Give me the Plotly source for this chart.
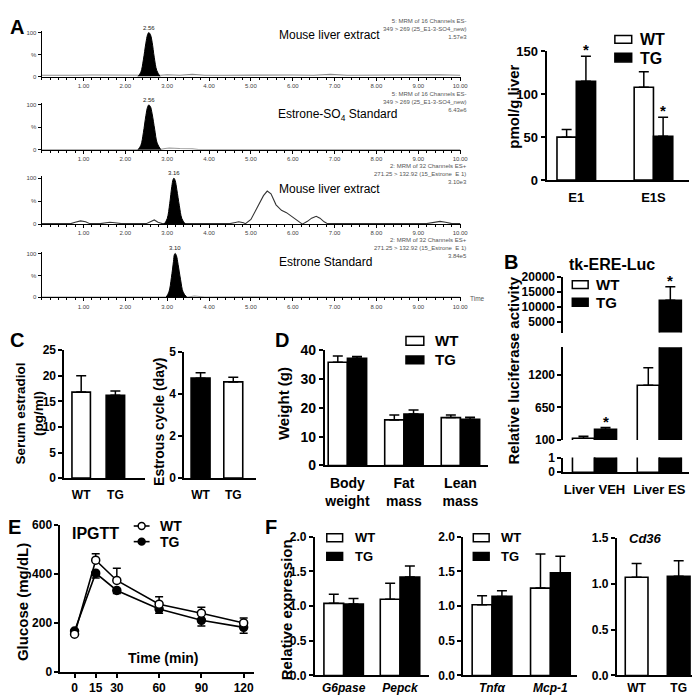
import plotly.graph_objects as go

W, H = 700, 696
FONT = "Liberation Sans, Arial, Helvetica, sans-serif"

# ---------------- data ----------------
# A (left): LC-MS/MS chromatograms, retention time (min) vs relative intensity (%)
chrom_ticks = [1, 2, 3, 4, 5, 6, 7, 8, 9, 10]
chrom_yticks = [0, 50, 100]
chrom_yticktext = ["0", "%", "100"]

c1_base_t = [0.0, 0.5, 0.8, 1.2, 1.6, 2.0, 2.3, 2.85, 3.0, 3.3, 3.6, 3.9, 4.4, 5.0, 5.5, 6.0, 6.5, 6.9, 7.3, 8.0, 8.5, 9.0, 9.5, 10.0]
c1_base_v = [3, 4, 3, 3.5, 3, 4, 3, 3, 4, 3, 5, 3, 3, 3.5, 3, 3.5, 3, 5, 3, 3.5, 3, 3, 4, 3]
c1_peak_t = [2.30, 2.37, 2.43, 2.49, 2.53, 2.56, 2.60, 2.64, 2.69, 2.75, 2.83]
c1_peak_v = [0, 10, 38, 76, 95, 100, 95, 78, 44, 14, 0]

c2_base_t = [0.0, 2.0, 2.1, 2.3, 2.85, 2.95, 3.05, 3.3, 3.6, 3.75, 10.0]
c2_base_v = [0.5, 0.5, 1.5, 0.5, 1, 3, 4, 3, 2.5, 0.5, 0.5]
c2_peak_t = [2.30, 2.37, 2.43, 2.49, 2.53, 2.56, 2.60, 2.64, 2.70, 2.76, 2.85]
c2_peak_v = [0, 10, 38, 76, 95, 100, 96, 80, 46, 15, 0]

c3_line_t = [0.0, 0.7, 0.8, 0.93, 1.05, 1.15, 1.4, 1.55, 1.63, 1.75, 1.9, 2.5, 2.6, 2.69, 2.78, 2.88,
             3.4, 4.5, 4.6, 4.71, 4.82, 4.87, 5.0, 5.15, 5.3, 5.39, 5.48, 5.6, 5.73, 5.85, 6.0, 6.15,
             6.23, 6.35, 6.45, 6.56, 6.65, 6.75, 6.83, 9.2, 9.35, 9.52, 9.65, 9.8, 10.0]
c3_line_v = [1, 1, 4, 7, 5, 1, 1, 3, 4, 3, 1, 1, 5, 9, 4, 1,
             1, 1, 3, 5, 3, 1, 10, 35, 62, 72, 66, 42, 30, 25, 15, 6,
             0, 6, 13, 17, 13, 5, 1, 1, 4, 6, 4, 1, 1]
c3_peak_t = [2.93, 3.00, 3.06, 3.11, 3.14, 3.16, 3.19, 3.23, 3.29, 3.35, 3.43]
c3_peak_v = [0, 12, 45, 82, 97, 100, 95, 75, 40, 12, 0]

c4_base_t = [0.0, 2.6, 2.75, 2.95, 3.5, 3.65, 3.75, 3.9, 5.0, 5.3, 5.6, 10.0]
c4_base_v = [0.5, 0.5, 1.5, 0.5, 1, 3, 2, 1, 1.5, 2, 1, 0.5]
c4_peak_t = [2.97, 3.04, 3.10, 3.15, 3.17, 3.19, 3.22, 3.26, 3.32, 3.38, 3.47]
c4_peak_v = [0, 12, 45, 82, 97, 100, 95, 75, 40, 12, 0]

peak_times = [2.56, 2.56, 3.16, 3.19]
peak_labels = ["2.56", "2.56", "3.16", "3.10"]
chrom_names = ["Mouse liver extract", "Estrone-SO<sub>4</sub> Standard", "Mouse liver extract", "Estrone Standard"]
chrom_info = [
    "5: MRM of 16 Channels ES-<br>349 > 269 (25_E1-3-SO4_new)<br>1.57e3",
    "5: MRM of 16 Channels ES-<br>349 > 269 (25_E1-3-SO4_new)<br>6.43e6",
    "2: MRM of 32 Channels ES+<br>271.25 > 132.92 (15_Estrone  E 1)<br>3.10e3",
    "2: MRM of 32 Channels ES+<br>271.25 > 132.92 (15_Estrone  E 1)<br>3.84e5",
]

# A (right): pmol/g liver
a_cats = ["E1", "E1S"]
a_wt = [50, 108]
a_wt_err = [9, 18]
a_tg = [115, 51]
a_tg_err = [29, 22]

# B: tk-ERE-Luc relative luciferase activity (broken y axis)
b_cats = ["Liver VEH", "Liver ES"]
b_wt = [130, 1020]
b_wt_err = [35, 295]
b_tg = [280, 12150]
b_tg_err = [30, 4550]
b_upper_ticks = [5000, 10000, 15000, 20000]
b_middle_ticks = [100, 650, 1200]
b_lower_ticks = [0, 1]

# C
c_cats = ["WT", "TG"]
c_estradiol = [16.8, 16.2]
c_estradiol_err = [3.2, 0.8]
c_estrous = [4.76, 4.58]
c_estrous_err = [0.26, 0.22]

# D
d_cats = ["Body<br>weight", "Fat<br>mass", "Lean<br>mass"]
d_wt = [35.8, 15.8, 16.6]
d_wt_err = [2.2, 1.7, 0.9]
d_tg = [37.2, 17.8, 16.0]
d_tg_err = [0.6, 1.4, 0.7]

# E: IPGTT
e_time = [0, 15, 30, 60, 90, 120]
e_wt = [153, 456, 373, 276, 239, 199]
e_wt_err = [8, 26, 50, 30, 24, 20]
e_tg = [166, 403, 332, 256, 210, 181]
e_tg_err = [10, 20, 12, 17, 23, 24]

# F
f1_cats = ["<i>G6pase</i>", "<i>Pepck</i>"]
f1_wt = [1.04, 1.10]
f1_wt_err = [0.13, 0.23]
f1_tg = [1.03, 1.42]
f1_tg_err = [0.08, 0.16]
f2_cats = ["<i>Tnfα</i>", "<i>Mcp-1</i>"]
f2_wt = [1.02, 1.26]
f2_wt_err = [0.13, 0.49]
f2_tg = [1.14, 1.48]
f2_tg_err = [0.08, 0.24]
f3_cats = ["WT", "TG"]
f3_vals = [1.07, 1.08]
f3_err = [0.15, 0.17]


# ---------------- helpers ----------------
def xdom(a, b):
    return [a / W, b / W]


def ydom(top, bottom):
    return [1 - bottom / H, 1 - top / H]


def PX(x):
    return x / W


def PY(y):
    return 1 - y / H


fig = go.Figure()
annotations = []
shapes = []


def bold_font(size):
    return dict(family=FONT, color="black", weight=700, size=size)


def prism_y(dom, rng, size=12, **kw):
    d = dict(domain=dom, range=rng, showline=True, linecolor="black", linewidth=2,
             ticks="outside", ticklen=4, tickwidth=2, tickcolor="black",
             tickfont=bold_font(size), showgrid=False, zeroline=False, fixedrange=True)
    d.update(kw)
    return d


def prism_x(dom, rng, size=13, **kw):
    d = dict(domain=dom, range=rng, showline=True, linecolor="black", linewidth=2,
             ticks="", tickfont=bold_font(size), showgrid=False, zeroline=False,
             type="category", fixedrange=True, ticklabelstandoff=4)
    d.update(kw)
    return d


def err(arr):
    return dict(type="data", symmetric=False, array=arr, arrayminus=[0] * len(arr),
                color="black", thickness=1.5, width=5)


def bar(xref, yref, cats, vals, errs, offset, width, fill):
    kw = {}
    if errs is not None:
        kw["error_y"] = err(errs)
    if offset is not None:
        kw["offset"] = offset
    fig.add_trace(go.Bar(x=cats, y=vals, width=width,
                         marker=dict(color=fill, line=dict(color="black", width=1.6)),
                         xaxis=xref, yaxis=yref, showlegend=False, hoverinfo="skip", **kw))


def grouped(xref, yref, cats, wt, wt_err, tg, tg_err, w):
    bar(xref, yref, cats, wt, wt_err, -w, w, "white")
    bar(xref, yref, cats, tg, tg_err, 0, w, "black")


def text(x, y, s, size, bold=True, angle=0, xanchor="center", yanchor="middle", color="black", align="center"):
    f = dict(family=FONT, size=size, color=color)
    if bold:
        f["weight"] = 700
    annotations.append(dict(x=PX(x), y=PY(y), xref="paper", yref="paper", text=s, showarrow=False,
                            font=f, textangle=angle, xanchor=xanchor, yanchor=yanchor, align=align))


def legend_box(x0, y0, x1, y1, fill):
    shapes.append(dict(type="rect", xref="paper", yref="paper", x0=PX(x0), x1=PX(x1), y0=PY(y1), y1=PY(y0),
                       line=dict(color="black", width=1.5), fillcolor=fill))


def star(xref, yref, x, y):
    annotations.append(dict(x=x, y=y, xref=xref, yref=yref, text="*", showarrow=False,
                            yanchor="bottom", yshift=-4, font=bold_font(15)))


layout = {}

# ---------------- A: chromatograms ----------------
chrom_geom = [(62, 17), (137, 91), (213, 166), (288, 243)]  # (zero px, hundred px)
chrom_data = [
    (c1_base_t, c1_base_v, c1_peak_t, c1_peak_v, "#8c8c8c"),
    (c2_base_t, c2_base_v, c2_peak_t, c2_peak_v, "#9a9a9a"),
    (c3_line_t, c3_line_v, c3_peak_t, c3_peak_v, "#333333"),
    (c4_base_t, c4_base_v, c4_peak_t, c4_peak_v, "#9a9a9a"),
]
name_pos = [(325, 19), (333, 101), (325, 177), (321, 252)]
info_y = [13, 88, 162, 237]
for i in range(4):
    n = i + 1
    zero, hund = chrom_geom[i]
    sc = (zero - hund) / 100.0
    top = zero - 104 * sc
    layout[f"xaxis{n}"] = dict(domain=xdom(34, 458), range=[0, 10.03], anchor=f"y{n}",
                               showline=True, linecolor="black", linewidth=1, ticks="outside",
                               ticklen=3, tickcolor="black", tickmode="array", tickvals=chrom_ticks,
                               tickformat=".2f", tickfont=dict(family=FONT, size=6, color="#444"),
                               minor=dict(dtick=0.2, tick0=0, ticks="outside", ticklen=2, tickcolor="black"),
                               showgrid=False, zeroline=False, fixedrange=True)
    layout[f"yaxis{n}"] = dict(domain=ydom(top, zero), range=[0, 104], anchor=f"x{n}",
                               showline=True, linecolor="black", linewidth=1, ticks="outside",
                               ticklen=3, tickcolor="black", tickmode="array", tickvals=chrom_yticks,
                               ticktext=chrom_yticktext, tickfont=dict(family=FONT, size=6, color="#444"),
                               showgrid=False, zeroline=False, fixedrange=True)
    bt, bv, pt, pv, col = chrom_data[i]
    fig.add_trace(go.Scatter(x=bt, y=bv, mode="lines", line=dict(color=col, width=1.1),
                             xaxis=f"x{n}", yaxis=f"y{n}", showlegend=False, hoverinfo="skip"))
    fig.add_trace(go.Scatter(x=pt, y=pv, mode="lines", fill="tozeroy", fillcolor="black",
                             line=dict(color="black", width=1, shape="spline"),
                             xaxis=f"x{n}", yaxis=f"y{n}", showlegend=False, hoverinfo="skip"))
    annotations.append(dict(x=peak_times[i], y=100, xref=f"x{n}", yref=f"y{n}", text=peak_labels[i],
                            showarrow=False, yanchor="bottom", yshift=0,
                            font=dict(family=FONT, size=6, color="#222")))
    text(name_pos[i][0], name_pos[i][1], chrom_names[i], 12, bold=False)
    text(466, info_y[i], chrom_info[i], 6, bold=False, xanchor="right", color="#555", align="right")
text(465, 289, "Time", 6.5, bold=False, xanchor="left", color="#555")

# ---------------- A: bar chart ----------------
wA = 0.25
layout["xaxis5"] = prism_x(xdom(544, 688), [-0.385, 1.462], 13, anchor="y5")
layout["yaxis5"] = prism_y(ydom(36, 168), [0, 150], 13, anchor="x5", tickvals=[0, 50, 100, 150])
grouped("x5", "y5", a_cats, a_wt, a_wt_err, a_tg, a_tg_err, wA)
for i in range(2):
    star("x5", "y5", i + wA / 2, a_tg[i] + a_tg_err[i])
text(511, 93, "pmol/g liver", 15, angle=-90)
legend_box(613, 20, 630, 28, "white")
legend_box(613, 38, 630, 47, "black")
text(636, 24, "WT", 16, xanchor="left")
text(636, 43, "TG", 16, xanchor="left")

# ---------------- B: broken-axis bar chart ----------------
wB = 0.34
b_upper_rng = [1400, 20000]
b_middle_rng = [100, 1660]
b_lower_rng = [0, 1]
layout["xaxis6"] = prism_x(xdom(561, 688), [-0.48, 1.46], 13, anchor="y8",
                           categoryorder="array", categoryarray=b_cats)
layout["yaxis6"] = prism_y(ydom(267, 324), b_upper_rng, 12, anchor="x6", tickmode="array",
                           tickvals=b_upper_ticks, ticktext=[str(v) for v in b_upper_ticks])
layout["yaxis7"] = prism_y(ydom(339, 434), b_middle_rng, 12, anchor="x6", tickmode="array",
                           tickvals=b_middle_ticks, ticktext=[str(v) for v in b_middle_ticks])
layout["yaxis8"] = prism_y(ydom(452, 467), b_lower_rng, 12, anchor="x6", tickmode="array",
                           tickvals=b_lower_ticks, ticktext=[str(v) for v in b_lower_ticks])
for ya, (lo, hi) in [("y6", b_upper_rng), ("y7", b_middle_rng), ("y8", b_lower_rng)]:
    for vals, errs, off, fill in [(b_wt, b_wt_err, -wB, "white"), (b_tg, b_tg_err, 0, "black")]:
        inside = [k for k in range(len(b_cats)) if lo < vals[k] <= hi]
        outside = [k for k in range(len(b_cats)) if k not in inside]
        if inside:
            bar("x6", ya, [b_cats[k] for k in inside], [vals[k] for k in inside],
                [errs[k] for k in inside], off, wB, fill)
        if outside:
            bar("x6", ya, [b_cats[k] for k in outside], [vals[k] for k in outside],
                None, off, wB, fill)
star("x6", "y7", 0 + wB / 2, b_tg[0] + b_tg_err[0])
star("x6", "y6", 1 + wB / 2, b_tg[1] + b_tg_err[1])
text(508, 252, "B", 20)
text(610, 254, "tk-ERE-Luc", 16)
text(511, 363, "Relative luciferase activity", 15, angle=-90)
legend_box(570, 271, 586, 279, "white")
legend_box(570, 289, 586, 297, "black")
text(592, 275, "WT", 15, xanchor="left")
text(592, 293, "TG", 15, xanchor="left")

# ---------------- C ----------------
layout["xaxis9"] = prism_x(xdom(57, 138), [-0.49, 1.855], 12, anchor="y9")
layout["yaxis9"] = prism_y(ydom(342, 473), [0, 25], 12, anchor="x9", dtick=5)
bar("x9", "y9", c_cats, c_estradiol, c_estradiol_err, None, 0.54, ["white", "black"])
layout["xaxis10"] = prism_x(xdom(178, 250), [-0.5, 1.68], 12, anchor="y10")
layout["yaxis10"] = prism_y(ydom(344, 473), [0, 6], 12, anchor="x10", tickmode="array",
                            tickvals=[0, 2, 4, 6], ticktext=["0", "2", "4", "5"])
bar("x10", "y10", c_cats, c_estrous, c_estrous_err, None, 0.58, ["black", "white"])
text(9, 332, "C", 20)
text(22, 407, "Serum estradiol<br>(pg/ml)", 13.5, angle=-90)
text(153, 415, "Estrous cycle (day)", 14, angle=-90)

# ---------------- D ----------------
wD = 0.34
layout["xaxis11"] = prism_x(xdom(320, 485), [-0.40, 2.49], 14, anchor="y11")
layout["yaxis11"] = prism_y(ydom(342, 460), [0, 40], 14, anchor="x11", dtick=10)
grouped("x11", "y11", d_cats, d_wt, d_wt_err, d_tg, d_tg_err, wD)
text(277, 332, "D", 20)
text(279, 397, "Weight (g)", 15, angle=-90)
legend_box(402, 328, 420, 337, "white")
legend_box(402, 348, 420, 356, "black")
text(429, 332, "WT", 15, xanchor="left")
text(429, 352, "TG", 15, xanchor="left")

# ---------------- E ----------------
layout["xaxis12"] = dict(domain=xdom(53, 248), range=[-10, 127], anchor="y12", showline=True,
                         linecolor="black", linewidth=2, ticks="outside", ticklen=4, tickwidth=2,
                         tickcolor="black", tickmode="array", tickvals=e_time, tickfont=bold_font(12),
                         showgrid=False, zeroline=False, fixedrange=True)
layout["yaxis12"] = prism_y(ydom(521, 671), [0, 600], 12, anchor="x12", dtick=200)
fig.add_trace(go.Scatter(x=e_time, y=e_tg, mode="lines+markers",
                         line=dict(color="black", width=1.6),
                         marker=dict(color="black", size=8, line=dict(color="black", width=1.5)),
                         error_y=dict(type="data", symmetric=False, array=[0] * len(e_tg_err),
                                      arrayminus=e_tg_err, color="black", thickness=1.5, width=4),
                         xaxis="x12", yaxis="y12", showlegend=False, hoverinfo="skip"))
fig.add_trace(go.Scatter(x=e_time, y=e_wt, mode="lines+markers",
                         line=dict(color="black", width=1.6),
                         marker=dict(color="white", size=8, line=dict(color="black", width=1.5)),
                         error_y=dict(type="data", symmetric=False, array=e_wt_err,
                                      arrayminus=[0] * len(e_wt_err), color="black", thickness=1.5, width=4),
                         xaxis="x12", yaxis="y12", showlegend=False, hoverinfo="skip"))
text(7, 523, "E", 20)
text(88, 530, "IPGTT", 16)
text(157, 657, "Time (min)", 14)
text(14, 600, "Glucose (mg/dL)", 15, angle=-90)
for yy, fill in [(522, "white"), (538, "black")]:
    shapes.append(dict(type="line", xref="paper", yref="paper", x0=PX(127), x1=PX(143),
                       y0=PY(yy), y1=PY(yy), line=dict(color="black", width=1.6)))
    shapes.append(dict(type="circle", xref="paper", yref="paper", x0=PX(131.5), x1=PX(138.5),
                       y0=PY(yy + 3.5), y1=PY(yy - 3.5), line=dict(color="black", width=1.5),
                       fillcolor=fill))
text(152, 522, "WT", 14, xanchor="left")
text(152, 538, "TG", 14, xanchor="left")

# ---------------- F ----------------
wF = 0.35
f_bottom = 675
layout["xaxis13"] = prism_x(xdom(310, 425), [-0.51, 1.51], 12, anchor="y13", ticklabelstandoff=0)
layout["yaxis13"] = prism_y(ydom(533, f_bottom), [0, 2], 12, anchor="x13", dtick=0.5, tickformat=".1f")
grouped("x13", "y13", f1_cats, f1_wt, f1_wt_err, f1_tg, f1_tg_err, wF)
layout["xaxis14"] = prism_x(xdom(460, 575), [-0.49, 1.46], 12, anchor="y14", ticklabelstandoff=0)
layout["yaxis14"] = prism_y(ydom(533, f_bottom), [0, 2], 12, anchor="x14", dtick=0.5, tickformat=".1f")
grouped("x14", "y14", f2_cats, f2_wt, f2_wt_err, f2_tg, f2_tg_err, 0.34)
layout["xaxis15"] = prism_x(xdom(615, 697), [-0.47, 1.46], 12, anchor="y15", ticklabelstandoff=0)
layout["yaxis15"] = prism_y(ydom(534, f_bottom), [0, 1.5], 12, anchor="x15", dtick=0.5, tickformat=".1f")
bar("x15", "y15", f3_cats, f3_vals, f3_err, None, 0.54, ["white", "black"])
text(266, 523, "F", 20)
text(281, 608, "Relative expression", 15, angle=-90)
text(625, 535, "<i>Cd36</i>", 13, xanchor="left")
for x0 in [322, 470]:
    legend_box(x0, 530, x0 + 16, 538, "white")
    legend_box(x0, 549, x0 + 16, 557, "black")
    text(x0 + 26, 534, "WT", 13, xanchor="left")
    text(x0 + 26, 553, "TG", 13, xanchor="left")

text(9, 11, "A", 20)

fig.update_layout(
    width=W, height=H, margin=dict(l=0, r=0, t=0, b=0),
    paper_bgcolor="white", plot_bgcolor="white",
    font=dict(family=FONT, color="black"),
    showlegend=False, barmode="overlay",
    annotations=annotations, shapes=shapes,
    **layout,
)
fig.write_html("out.html")
